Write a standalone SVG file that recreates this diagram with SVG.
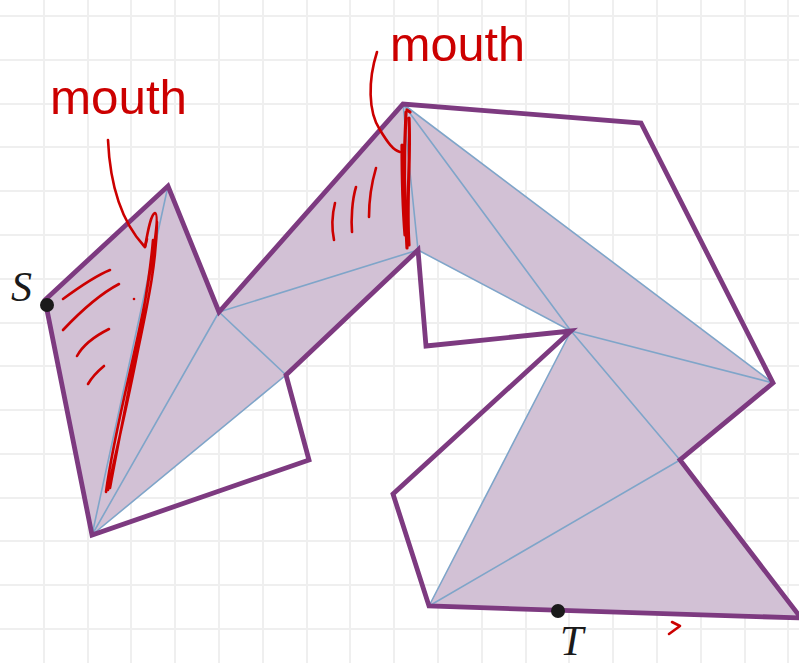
<svg xmlns="http://www.w3.org/2000/svg" width="799" height="663" viewBox="0 0 799 663">
<style>
.grid{stroke:#efefef;stroke-width:2;fill:none}
.fill{fill:#d2c1d5;stroke:none}
.diag{stroke:#7fa5c9;stroke-width:1.6;fill:none;stroke-linejoin:round}
.outline{fill:none;stroke:#7d3a80;stroke-width:4.8;stroke-linejoin:miter}
.red{fill:none;stroke:#cc0000;stroke-width:2.6;stroke-linecap:round;stroke-linejoin:round}
.hand{font-family:"Liberation Sans","DejaVu Sans",sans-serif;font-size:48px;fill:#cc0000}
.lbl{font-family:"Liberation Serif","DejaVu Serif",serif;font-style:italic;font-size:42px;fill:#1a1a1a}
</style>
<rect width="799" height="663" fill="#ffffff"/>
<path class="grid" d="M44,0V663M88,0V663M131,0V663M175,0V663M219,0V663M263,0V663M307,0V663M350,0V663M394,0V663M438,0V663M482,0V663M526,0V663M569,0V663M613,0V663M657,0V663M701,0V663M745,0V663M788,0V663M0,16H799M0,60H799M0,104H799M0,147H799M0,191H799M0,235H799M0,279H799M0,323H799M0,366H799M0,410H799M0,454H799M0,498H799M0,541H799M0,585H799M0,629H799"/>
<g id="sleeve">
<path class="fill" d="M45,300 L168,186 L219,312 L403,104 L773,383 L680,460 L801,618 L429,606 L571,331 L418,250 L286,375 L92,535 Z"/>
</g>
<g id="connectors">
<path class="diag" d="M168,186 L92,535 M219,312 L92,535 M286,375 L92,535 M219,312 L286,375 M219,312 L418,250 M403,104 L418,250 M403,104 L571,331 M418,250 L571,331 M403,104 L773,383 M571,331 L773,383 M571,331 L680,460 M571,331 L429,606 M680,460 L429,606"/>
</g>
<g id="polygon">
<path class="outline" d="M45,300 L168,186 L219,312 L403,104 L641,123 L773,383 L680,460 L801,618 L429,606 L393,494 L571,331 L426,346 L418,250 L286,375 L309,460 L92,535 Z"/>
</g>
<g id="annotations">
<text class="hand" x="50" y="114" textLength="137" lengthAdjust="spacingAndGlyphs">mouth</text>
<text class="hand" x="390" y="61" textLength="135" lengthAdjust="spacingAndGlyphs">mouth</text>
<path class="red" d="M108,140 C110,185 122,222 144,246 M139,240 L145,247 L147,239"/>
<path class="red" d="M145,247 C148,230 151,214 155,213 C160,214 153,255 147,290 C138,345 114,430 106,492 M157,222 C156,270 146,310 136,360 C124,420 114,460 108,490 M153,240 C148,300 130,380 110,488"/>
<path class="red" d="M110,270 C95,276 78,288 63,299 M119,284 C100,294 80,312 63,330 M109,329 C95,336 83,345 77,356 M104,366 C98,371 92,377 88,384"/>
<circle cx="134" cy="299" r="1.3" fill="#cc0000"/>
<path class="red" d="M377,52 C368,80 368,112 380,130 C388,143 393,150 400,152"/>
<path class="red" style="stroke-width:3.2" d="M406,112 C404,150 404,200 407,248 M409,118 C411,160 406,200 409,245 M402,145 C402,180 403,210 405,235 M407,110 L410,112"/>
<path class="red" d="M335,203 C332,215 332,230 334,240 M356,187 C352,200 351,220 352,232 M376,168 C371,185 369,200 369,217"/>
<path class="red" d="M672,622 L680,626 L669,634"/>
</g>
<g id="S">
<circle cx="47" cy="305" r="7" fill="#1a1a1a"/>
<text class="lbl" x="11" y="301">S</text>
</g>
<g id="T">
<circle cx="558" cy="611" r="7" fill="#1a1a1a"/>
<text class="lbl" x="560" y="655">T</text>
</g>
</svg>
